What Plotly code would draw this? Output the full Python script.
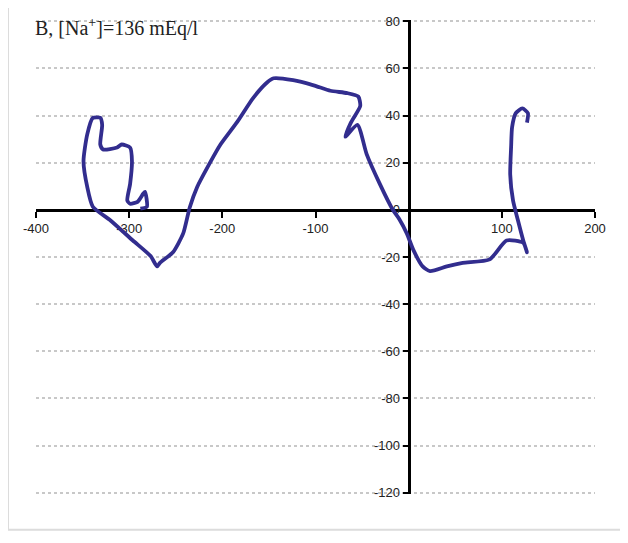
import plotly.graph_objects as go

# Loop trace (x, y), in drawing order
loop_x = [127, 128, 122, 115, 111,
          110, 109, 112, 117, 123, 127, 123,
          105, 87, 58, 41, 23, 15, 5, -2, -10, -17,
          -31, -45, -55, -68, -62, -52, -54, -66, -84,
          -102, -124, -145, -152, -167, -184, -202, -216, -227, -235,
          -242, -253, -267, -270, -277, -296, -320, -339, -345, -349,
          -345, -339, -331, -329, -331, -328, -313, -308, -299, -297,
          -299, -302, -299, -291, -285, -283, -281, -288]
loop_y = [37, 41, 43, 41, 35,
          27, 15, 4, -4, -13, -18, -14,
          -13, -21, -22.5, -24, -26, -24, -17, -10, -4, 0,
          11, 23.5, 36, 31, 37, 44, 48, 49.5, 50.5,
          52.8, 55, 55.8, 54, 47.4, 37.3, 27.7, 18, 9.7, 1,
          -10, -18, -22.5, -24, -19.6, -13, -4.5, 1.3, 9.7, 20.6,
          32, 39, 39, 36, 27.7, 25.6, 26.4, 27.7, 26.4, 20.6,
          11, 4, 2.6, 3.4, 6.8, 7.6, 1.3, 0.5]

x_ticks = [-400, -300, -200, -100, 100, 200]
x_tick_labels = ["-400", "-300", "-200", "-100", "100", "200"]
y_ticks = [80, 60, 40, 20, 0, -20, -40, -60, -80, -100, -120]
y_tick_labels = ["80", "60", "40", "20", "0", "-20", "-40", "-60", "-80", "-100", "-120"]
x_range = [-400, 200]
y_range = [-120.5, 80.5]
title_text = "B, [Na<sup>+</sup>]=136 mEq/l"

fig = go.Figure()
fig.add_trace(go.Scatter(
    x=loop_x, y=loop_y, mode="lines",
    line=dict(color="#322d8e", width=3.8, shape="spline", smoothing=0.6),
    showlegend=False, hoverinfo="skip"))

tick_font = dict(family="Liberation Sans Narrow, Arial Narrow, Liberation Sans, sans-serif",
                 size=13, color="#222222")

# the page body has an 8px default margin, so the figure is 8px smaller
fig.update_layout(
    width=620, height=535, autosize=False,
    margin=dict(l=28, r=33, t=6, b=49, pad=0),
    paper_bgcolor="white", plot_bgcolor="white",
    xaxis=dict(
        range=x_range, anchor="free",
        position=(0 - y_range[0]) / (y_range[1] - y_range[0]),
        showline=True, linecolor="black", linewidth=3,
        ticks="outside", ticklen=6, tickwidth=2, tickcolor="black",
        tickvals=x_ticks, ticktext=x_tick_labels, tickfont=tick_font,
        ticklabeloverflow="allow",
        showgrid=False, zeroline=False, layer="below traces",
    ),
    yaxis=dict(
        range=y_range, anchor="free",
        position=(0 - x_range[0]) / (x_range[1] - x_range[0]),
        showline=True, linecolor="black", linewidth=3,
        ticks="outside", ticklen=5, tickwidth=2, tickcolor="black",
        tickvals=y_ticks, ticktext=y_tick_labels, tickfont=tick_font,
        ticklabeloverflow="allow",
        showgrid=True, gridcolor="#c8c8c8", gridwidth=1.5, griddash="dot",
        zeroline=False, layer="below traces",
    ),
)

fig.add_annotation(
    text=title_text, xref="paper", yref="paper",
    x=-0.006, y=0.985, xanchor="left", yanchor="middle", showarrow=False,
    font=dict(family="Liberation Serif, Times New Roman, serif", size=20, color="#222222"))

fig.add_shape(type="rect", xref="paper", yref="paper",
              x0=-0.0501, x1=1.0483, y0=-0.0753, y1=1.1,
              line=dict(color="#dcdcdc", width=2), layer="below")

fig.write_html("out.html")
